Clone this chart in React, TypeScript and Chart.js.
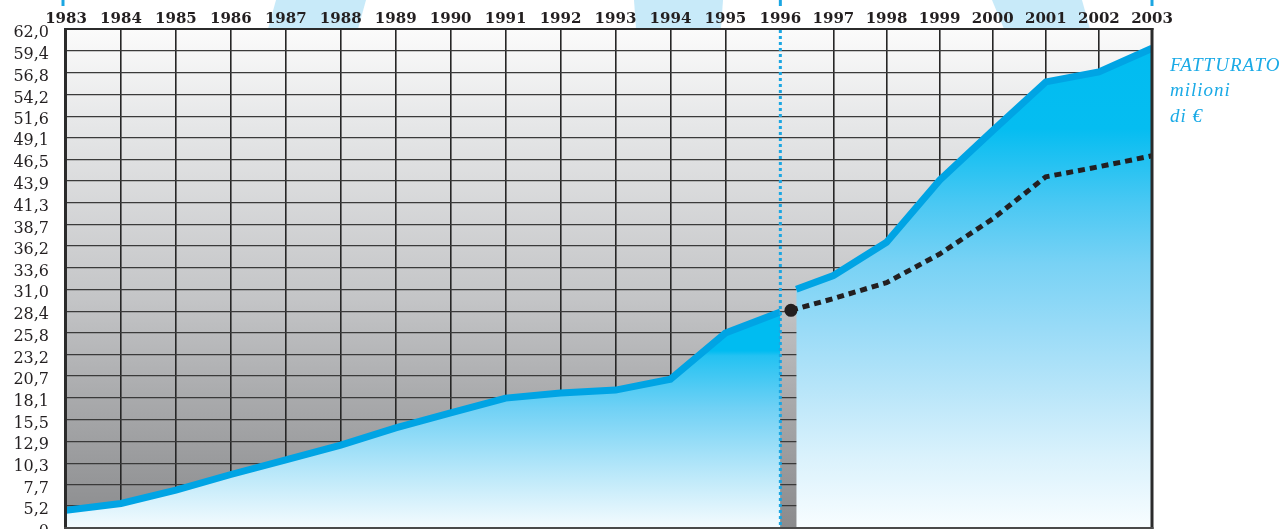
import React, { useEffect, useRef } from "react";
import { Chart, registerables, LinearScale } from "chart.js";

Chart.register(...registerables);

// ---------- DATA ----------
const xTickYears = [1983, 1984, 1985, 1986, 1987, 1988, 1989, 1990, 1991, 1992, 1993, 1994, 1995, 1996, 1997, 1998, 1999, 2000, 2001, 2002, 2003];
const xTickLabels = xTickYears.map((y) => String(y));

const yTickValues = [2.58, 5.2, 7.7, 10.3, 12.9, 15.5, 18.1, 20.7, 23.2, 25.8, 28.4, 31.0, 33.6, 36.2, 38.7, 41.3, 43.9, 46.5, 49.1, 51.6, 54.2, 56.8, 59.4, 62.0];
const yTickLabels = ["0", "5,2", "7,7", "10,3", "12,9", "15,5", "18,1", "20,7", "23,2", "25,8", "28,4", "31,0", "33,6", "36,2", "38,7", "41,3", "43,9", "46,5", "49,1", "51,6", "54,2", "56,8", "59,4", "62,0"];

// historical revenue (solid, 1983-1996)
const pastYears = [1983, 1984, 1985, 1986, 1987, 1988, 1989, 1990, 1991, 1992, 1993, 1994, 1995, 1996];
const pastRevenue = [4.7, 5.5, 7.1, 8.95, 10.7, 12.45, 14.5, 16.3, 18.05, 18.65, 19.0, 20.3, 25.8, 28.3];

// revenue after 1996 (solid, second block)
const laterYears = [1996.3, 1997, 1998, 1999, 2000, 2001, 2002, 2003];
const laterRevenue = [31.0, 32.65, 36.6, 44.0, 49.9, 55.7, 56.9, 59.7];

// dotted trend line starting from the 1996 dot
const trendYears = [1996.2, 1997, 1998, 1999, 2000, 2001, 2002, 2003];
const trendRevenue = [28.5, 29.9, 31.8, 35.2, 39.4, 44.4, 45.6, 46.9];

const sideLabelLines = ["FATTURATO", "milioni", "di €"];

const SPLIT_YEAR = 1996;
const SPLIT_FRACTION = 715 / 1087;

// ---------- piecewise linear x scale (left block slightly wider per year) ----------
class SplitLinearScale extends LinearScale {
  static id = "splitLinear";
  static defaults = LinearScale.defaults;
  toDecimal(v: number) {
    const a = this.min as number;
    const b = this.max as number;
    if (v <= SPLIT_YEAR) return ((v - a) / (SPLIT_YEAR - a)) * SPLIT_FRACTION;
    return SPLIT_FRACTION + ((v - SPLIT_YEAR) / (b - SPLIT_YEAR)) * (1 - SPLIT_FRACTION);
  }
  getPixelForValue(v: any) {
    if (v === null || v === undefined || isNaN(v)) return NaN;
    return this.getPixelForDecimal(this.toDecimal(v));
  }
  getValueForPixel(p: number) {
    const d = this.getDecimalForPixel(p);
    const a = this.min as number;
    const b = this.max as number;
    if (d <= SPLIT_FRACTION) return a + (d / SPLIT_FRACTION) * (SPLIT_YEAR - a);
    return SPLIT_YEAR + ((d - SPLIT_FRACTION) / (1 - SPLIT_FRACTION)) * (b - SPLIT_YEAR);
  }
}
Chart.register(SplitLinearScale as any);

// ---------- styles ----------
const bgStops: [number, string][] = [
  [0, "#fbfbfb"], [0.18, "#e7e8e9"], [0.54, "#c4c5c7"], [0.74, "#a9aaac"], [1, "#8a8b8d"],
];
const leftFillStops: [number, string][] = [
  [0, "#00bcf1"], [0.645, "#00bcf1"], [0.655, "#24c2f2"], [0.76, "#70d1f5"], [0.88, "#b4e6f9"], [1, "#f4fbfe"],
];
const rightFillStops: [number, string][] = [
  [0, "#00bcf1"], [0.2, "#05bdf1"], [0.35, "#4ac8f3"], [0.47, "#78d2f5"], [0.6, "#99dbf7"], [0.72, "#b7e5f9"], [0.85, "#d8f1fc"], [1, "#f8fdff"],
];

function makeGradient(chart: any, stops: [number, string][]) {
  const ca = chart.chartArea;
  if (!ca) return stops[0][1];
  const g = chart.ctx.createLinearGradient(0, ca.top, 0, ca.bottom);
  stops.forEach(([o, c]) => g.addColorStop(o, c));
  return g;
}

const decoPlugin = {
  id: "deco",
  beforeDraw(chart: any) {
    const { ctx, chartArea: ca, width, height } = chart;
    const xs = chart.scales.x;
    ctx.save();
    ctx.fillStyle = "#ffffff";
    ctx.fillRect(0, 0, width, height);
    // light watermark bands behind the year labels
    ctx.fillStyle = "#c8eaf9";
    const bands = [
      [276, 366, 268, 358],
      [634, 723, 636, 721],
      [992, 1082, 1004, 1090],
    ];
    bands.forEach(([a, b, c, d]) => {
      ctx.beginPath();
      ctx.moveTo(a, 0);
      ctx.lineTo(b, 0);
      ctx.lineTo(d, ca.top);
      ctx.lineTo(c, ca.top);
      ctx.closePath();
      ctx.fill();
    });
    // small cyan marks at the top
    ctx.strokeStyle = "#1ba6e2";
    ctx.lineWidth = 3;
    [xTickYears[0], SPLIT_YEAR, xTickYears[xTickYears.length - 1]].forEach((yr, i) => {
      const px = xs.getPixelForValue(yr) + (i === 0 ? -3 : 0);
      ctx.beginPath();
      ctx.moveTo(px, 0);
      ctx.lineTo(px, 6);
      ctx.stroke();
    });
    // plot background gradient
    ctx.fillStyle = makeGradient(chart, bgStops);
    ctx.fillRect(ca.left, ca.top, ca.right - ca.left, ca.bottom - ca.top);
    ctx.restore();
  },
  afterDatasetsDraw(chart: any) {
    const { ctx, chartArea: ca } = chart;
    const xs = chart.scales.x;
    ctx.save();
    // dotted cyan divider at 1996
    const sx = xs.getPixelForValue(SPLIT_YEAR);
    ctx.strokeStyle = "#1ba6e2";
    ctx.lineWidth = 3;
    ctx.setLineDash([3, 3]);
    ctx.beginPath();
    ctx.moveTo(sx, ca.top + 1);
    ctx.lineTo(sx, ca.bottom);
    ctx.stroke();
    ctx.setLineDash([]);
    // frame
    ctx.strokeStyle = "#2b2b2b";
    ctx.lineWidth = 3;
    ctx.beginPath();
    ctx.moveTo(ca.left - 0.5, ca.top - 1);
    ctx.lineTo(ca.left - 0.5, ca.bottom + 2);
    ctx.moveTo(ca.right, ca.top - 1);
    ctx.lineTo(ca.right, ca.bottom + 2);
    ctx.stroke();
    ctx.lineWidth = 2;
    ctx.beginPath();
    ctx.moveTo(ca.left - 2, ca.top);
    ctx.lineTo(ca.right + 1.5, ca.top);
    ctx.stroke();
    ctx.strokeStyle = "#4a4a4a";
    ctx.beginPath();
    ctx.moveTo(ca.left - 2, ca.bottom);
    ctx.lineTo(ca.right + 1.5, ca.bottom);
    ctx.stroke();
    ctx.restore();
  },
  afterDraw(chart: any) {
    const { ctx, chartArea: ca } = chart;
    ctx.save();
    ctx.fillStyle = "#1aaae6";
    ctx.font = 'italic 19px "Liberation Serif"';
    try {
      (ctx as any).letterSpacing = "1px";
    } catch (e) {}
    ctx.textAlign = "left";
    ctx.textBaseline = "alphabetic";
    const baselines = [42, 67, 93];
    sideLabelLines.forEach((t, i) => {
      ctx.fillText(t, ca.right + 18, ca.top + baselines[i]);
    });
    ctx.restore();
  },
};

export default function App() {
  const ref = useRef<HTMLCanvasElement>(null);
  useEffect(() => {
    const canvas = ref.current!;
    const chart = new Chart(canvas, {
      type: "line",
      data: {
        datasets: [
          {
            label: "trend",
            data: trendYears.map((x, i) => ({ x, y: trendRevenue[i] })),
            borderColor: "#231f20",
            borderWidth: 5,
            borderDash: [7, 5],
            borderCapStyle: "butt",
            fill: false,
            tension: 0,
            pointRadius: trendYears.map((_, i) => (i === 0 ? 6.5 : 0)),
            pointBackgroundColor: "#231f20",
            pointBorderWidth: 0,
            order: 0,
          },
          {
            label: "fatturato-past",
            data: pastYears.map((x, i) => ({ x, y: pastRevenue[i] })),
            borderColor: "#00a4e4",
            borderWidth: 7,
            borderCapStyle: "butt",
            borderJoinStyle: "miter",
            fill: "start",
            backgroundColor: (c: any) => makeGradient(c.chart, leftFillStops),
            tension: 0,
            pointRadius: 0,
            order: 2,
          },
          {
            label: "fatturato-later",
            data: laterYears.map((x, i) => ({ x, y: laterRevenue[i] })),
            borderColor: "#00a4e4",
            borderWidth: 7,
            borderCapStyle: "butt",
            borderJoinStyle: "miter",
            fill: "start",
            backgroundColor: (c: any) => makeGradient(c.chart, rightFillStops),
            tension: 0,
            pointRadius: 0,
            order: 1,
          },
        ],
      },
      options: {
        responsive: false,
        animation: false,
        events: [],
        layout: { autoPadding: false, padding: { left: 0, right: 131, top: 0, bottom: 1 } },
        plugins: { legend: { display: false }, tooltip: { enabled: false } },
        scales: {
          x: {
            type: "splitLinear" as any,
            position: "top",
            min: xTickYears[0],
            max: xTickYears[xTickYears.length - 1],
            afterBuildTicks: (s: any) => {
              s.ticks = xTickYears.map((v) => ({ value: v }));
            },
            afterFit: (s: any) => {
              s.height = 29;
              s.paddingLeft = 0;
              s.paddingRight = 0;
            },
            ticks: {
              callback: (_v: any, i: number) => xTickLabels[i],
              font: { family: "DejaVu Serif", size: 15, weight: "bold" },
              color: "#231f20",
              padding: 1,
              maxRotation: 0,
              autoSkip: false,
            },
            grid: {
              color: (c: any) => (c.tick && c.tick.value === SPLIT_YEAR ? "rgba(0,0,0,0)" : "#262626"),
              lineWidth: 1.6,
              drawTicks: false,
            },
            border: { display: false },
          } as any,
          y: {
            type: "linear",
            min: yTickValues[0],
            max: yTickValues[yTickValues.length - 1],
            afterBuildTicks: (s: any) => {
              s.ticks = yTickValues.map((v) => ({ value: v }));
            },
            afterFit: (s: any) => {
              s.width = 66;
              s.paddingTop = 0;
              s.paddingBottom = 0;
            },
            ticks: {
              callback: (_v: any, i: number) => yTickLabels[i],
              font: { family: "DejaVu Serif", size: 16 },
              color: "#231f20",
              padding: 17,
              labelOffset: 4,
              autoSkip: false,
            },
            grid: { color: "#3a3a3a", lineWidth: 1.3, drawTicks: false },
            border: { display: false },
          } as any,
        },
      },
      plugins: [decoPlugin],
    } as any);
    return () => chart.destroy();
  }, []);
  return (
    <div style={{ position: "absolute", left: 0, top: 0, width: 1283, height: 529 }}>
      <canvas ref={ref} width={1283} height={529} style={{ display: "block", width: 1283, height: 529 }} />
    </div>
  );
}
